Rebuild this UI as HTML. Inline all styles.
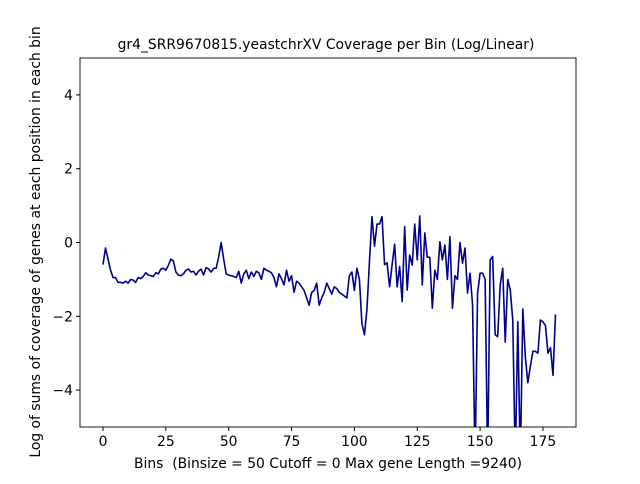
<!DOCTYPE html>
<html><head><meta charset="utf-8"><style>
body{margin:0;background:#fff;font-family:"DejaVu Sans","Liberation Sans",sans-serif}
</style></head><body>
<svg id="chart" width="640" height="480" viewBox="0 0 640 480" font-family="DejaVu Sans, Liberation Sans, sans-serif">
<rect width="640" height="480" fill="#fff"/>
<text x="326" y="49" font-size="13.9" text-anchor="middle">gr4_SRR9670815.yeastchrXV Coverage per Bin (Log/Linear)</text>
<g id="plot"></g>
<g id="axes"></g>
<text x="328" y="468" font-size="13.9" text-anchor="middle" xml:space="preserve">Bins  (Binsize = 50 Cutoff = 0 Max gene Length =9240)</text>
<text transform="translate(40,242) rotate(-90)" font-size="13.9" text-anchor="middle">Log of sums of coverage of genes at each position in each bin</text>
</svg>
<script>
const xTicks=[0,25,50,75,100,125,150,175];
const yTicks=[-4,-2,0,2,4];
const values=[-0.6,-0.15,-0.45,-0.75,-0.95,-0.95,-1.08,-1.08,-1.1,-1.05,-1.1,-1.0,-1.02,-1.08,-0.95,-0.98,-0.92,-0.82,-0.88,-0.9,-0.92,-0.82,-0.85,-0.72,-0.7,-0.75,-0.62,-0.45,-0.5,-0.8,-0.88,-0.9,-0.85,-0.75,-0.72,-0.8,-0.78,-0.88,-0.78,-0.72,-0.88,-0.68,-0.72,-0.8,-0.7,-0.7,-0.4,0.0,
-0.45,-0.85,-0.88,-0.9,-0.92,-0.95,-0.78,-1.1,-0.85,-0.75,-0.98,-0.8,-0.92,-0.78,-0.82,-1.0,-0.7,-0.75,-0.78,-0.82,-0.95,-1.2,-0.85,-0.98,-1.15,-0.75,-1.05,-0.9,-1.35,-1.05,-1.1,-1.2,-1.3,-1.5,-1.7,-1.35,-1.3,-1.1,-1.7,-1.5,-1.35,-1.1,-1.25,-1.4,-1.2,-1.25,-1.35,-1.4,-1.45,-1.5,-0.9,-0.8,-1.3,-0.7,-1.0,-2.2,-2.5,-1.8,-0.5,
0.7,-0.1,0.5,0.5,0.7,-0.6,-0.55,-1.2,-0.6,-0.05,-1.2,-0.65,
-1.6,0.43,-1.29,-0.34,-0.61,0.5,-0.47,0.72,-1.15,0.26,-0.4,-0.4,-1.78,-0.75,-1.0,0.02,-0.47,-0.07,-1.0,0.16,-1.78,-0.9,-1.0,0.0,-0.56,-0.15,-1.37,-0.83,-1.68,-6,-1.37,-0.83,-0.83,-1.0,-6,-0.47,-0.38,-2.5,-2.55,-1.15,-0.7,-2.7,-1.0,-1.29,-2.1,-6,-2.15,-6,-1.8,-3.1,-3.8,-3.35,-2.95,-2.95,-3.0,-2.1,-2.15,-2.25,-3.0,-2.85,-3.6,-1.95];
const L=80,R=576,T=58,B=427;
const xMin=-9.15,xMax=188.15,yMin=-5,yMax=5;
const sx=v=>L+(v-xMin)/(xMax-xMin)*(R-L);
const sy=v=>B-(v-yMin)/(yMax-yMin)*(B-T);
const NS="http://www.w3.org/2000/svg";
const plot=document.getElementById('plot'),axes=document.getElementById('axes');
const defs=document.createElementNS(NS,'defs');
defs.innerHTML='<clipPath id="clip"><rect x="80" y="58" width="496" height="369"/></clipPath>';
plot.appendChild(defs);
const line=document.createElementNS(NS,'polyline');


line.setAttribute('points',values.map((v,i)=>sx(i).toFixed(2)+','+sy(v).toFixed(2)).join(' '));
line.setAttribute('fill','none');line.setAttribute('stroke','#00008b');line.setAttribute('stroke-width','1.6');
line.setAttribute('stroke-linejoin','round');
line.setAttribute('clip-path','url(#clip)');
plot.appendChild(line);
const frame=document.createElementNS(NS,'rect');


frame.setAttribute('x',L);frame.setAttribute('y',T);frame.setAttribute('width',R-L);frame.setAttribute('height',B-T);
frame.setAttribute('fill','none');frame.setAttribute('stroke','#000');frame.setAttribute('stroke-width','0.9');
axes.appendChild(frame);
xTicks.forEach(t=>{const x=sx(t);
const tk=document.createElementNS(NS,'line');


tk.setAttribute('x1',x);tk.setAttribute('x2',x);tk.setAttribute('y1',B);tk.setAttribute('y2',B+4);tk.setAttribute('stroke','#000');axes.appendChild(tk);
const lb=document.createElementNS(NS,'text');


lb.setAttribute('x',x);lb.setAttribute('y',B+19);lb.setAttribute('font-size','13.9');lb.setAttribute('text-anchor','middle');lb.textContent=t;axes.appendChild(lb);});
yTicks.forEach(t=>{const y=sy(t);
const tk=document.createElementNS(NS,'line');


tk.setAttribute('x1',L-4);tk.setAttribute('x2',L);tk.setAttribute('y1',y);tk.setAttribute('y2',y);tk.setAttribute('stroke','#000');axes.appendChild(tk);
const lb=document.createElementNS(NS,'text');


lb.setAttribute('x',L-7);lb.setAttribute('y',y+5);lb.setAttribute('font-size','13.9');lb.setAttribute('text-anchor','end');lb.textContent=(t<0?'\u2212'+(-t):t);axes.appendChild(lb);});
</script>
</body></html>
